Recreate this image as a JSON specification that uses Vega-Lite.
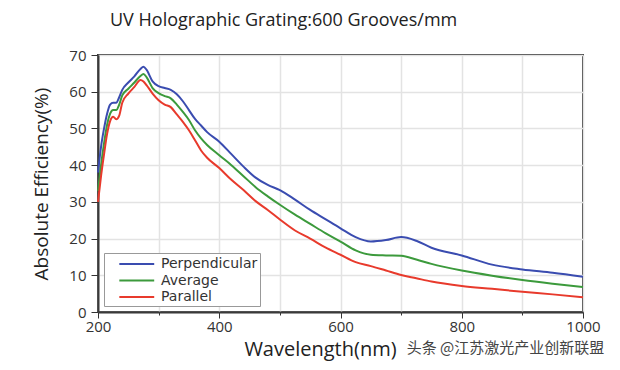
{
  "$schema": "https://vega.github.io/schema/vega-lite/v6.json",
  "width": 485,
  "height": 257,
  "autosize": "none",
  "padding": {"left": 98, "top": 55, "right": 37, "bottom": 58},
  "background": "white",
  "title": {
    "text": "UV Holographic Grating:600 Grooves/mm",
    "anchor": "start",
    "frame": "group",
    "dx": 12,
    "offset": 18,
    "font": "Open Sans",
    "fontSize": 18,
    "fontWeight": "normal",
    "color": "#222"
  },
  "config": {
    "view": {"stroke": "#3a3a3a", "strokeWidth": 2},
    "axis": {
      "labelFont": "Open Sans",
      "labelFontSize": 15,
      "labelColor": "#333",
      "titleFont": "Open Sans",
      "titleFontWeight": "normal",
      "titleColor": "#222",
      "tickColor": "#333",
      "domainColor": "#3a3a3a",
      "domainWidth": 2,
      "gridColor": "#e3e3e3",
      "gridWidth": 1.5,
      "labelOverlap": false,
      "labelFlush": false
    }
  },
  "data": {
    "values": [
      {"wl": 200, "Perpendicular": 38, "Average": 33, "Parallel": 30},
      {"wl": 205, "Perpendicular": 45, "Average": 40, "Parallel": 37},
      {"wl": 210, "Perpendicular": 50, "Average": 46, "Parallel": 43},
      {"wl": 215, "Perpendicular": 54, "Average": 51, "Parallel": 48.5},
      {"wl": 220, "Perpendicular": 56.5, "Average": 54, "Parallel": 52},
      {"wl": 225, "Perpendicular": 57, "Average": 55, "Parallel": 53.2},
      {"wl": 230, "Perpendicular": 57, "Average": 55, "Parallel": 52.5},
      {"wl": 235, "Perpendicular": 58.5, "Average": 56.5, "Parallel": 53.5},
      {"wl": 240, "Perpendicular": 60.5, "Average": 59, "Parallel": 57},
      {"wl": 250, "Perpendicular": 62.5, "Average": 60.8, "Parallel": 59.5},
      {"wl": 260, "Perpendicular": 64.2, "Average": 62.5, "Parallel": 61.3},
      {"wl": 270, "Perpendicular": 66.2, "Average": 64.3, "Parallel": 63.2},
      {"wl": 275, "Perpendicular": 66.8, "Average": 64.8, "Parallel": 62.8},
      {"wl": 280, "Perpendicular": 66, "Average": 64, "Parallel": 61.8},
      {"wl": 290, "Perpendicular": 62.8, "Average": 61, "Parallel": 59.5},
      {"wl": 300, "Perpendicular": 61.5, "Average": 59.6, "Parallel": 57.7},
      {"wl": 310, "Perpendicular": 61, "Average": 58.8, "Parallel": 56.5},
      {"wl": 320, "Perpendicular": 60.5, "Average": 58.2, "Parallel": 55.8},
      {"wl": 330, "Perpendicular": 59.3, "Average": 56.5, "Parallel": 53.8},
      {"wl": 340, "Perpendicular": 57.4, "Average": 54.5, "Parallel": 51.8},
      {"wl": 350, "Perpendicular": 55, "Average": 52.3, "Parallel": 49.5},
      {"wl": 360, "Perpendicular": 52.6, "Average": 49.5, "Parallel": 46.8},
      {"wl": 370, "Perpendicular": 50.8, "Average": 47.3, "Parallel": 44},
      {"wl": 380, "Perpendicular": 49, "Average": 45.5, "Parallel": 42},
      {"wl": 400, "Perpendicular": 46.4, "Average": 42.7, "Parallel": 39.2},
      {"wl": 420, "Perpendicular": 43, "Average": 40, "Parallel": 36},
      {"wl": 440, "Perpendicular": 39.6, "Average": 37, "Parallel": 33.2},
      {"wl": 460, "Perpendicular": 36.6, "Average": 34, "Parallel": 30.2},
      {"wl": 480, "Perpendicular": 34.6, "Average": 31.5, "Parallel": 27.8},
      {"wl": 500, "Perpendicular": 33.2, "Average": 29.2, "Parallel": 25.2},
      {"wl": 525, "Perpendicular": 30.6, "Average": 26.5, "Parallel": 22.2},
      {"wl": 550, "Perpendicular": 27.8, "Average": 24, "Parallel": 20},
      {"wl": 575, "Perpendicular": 25.3, "Average": 21.5, "Parallel": 17.6},
      {"wl": 600, "Perpendicular": 22.8, "Average": 19.2, "Parallel": 15.6},
      {"wl": 625, "Perpendicular": 20.4, "Average": 16.8, "Parallel": 13.6},
      {"wl": 650, "Perpendicular": 19.2, "Average": 15.6, "Parallel": 12.5},
      {"wl": 675, "Perpendicular": 19.6, "Average": 15.4, "Parallel": 11.3},
      {"wl": 700, "Perpendicular": 20.4, "Average": 15.3, "Parallel": 10.1},
      {"wl": 725, "Perpendicular": 19.4, "Average": 14.3, "Parallel": 9.2},
      {"wl": 750, "Perpendicular": 17.5, "Average": 13.1, "Parallel": 8.3},
      {"wl": 800, "Perpendicular": 15.4, "Average": 11.3, "Parallel": 7.1},
      {"wl": 850, "Perpendicular": 12.9, "Average": 9.9, "Parallel": 6.3},
      {"wl": 900, "Perpendicular": 11.6, "Average": 8.7, "Parallel": 5.5},
      {"wl": 950, "Perpendicular": 10.7, "Average": 7.7, "Parallel": 4.8},
      {"wl": 1000, "Perpendicular": 9.6, "Average": 6.8, "Parallel": 4.0}
    ]
  },
  "transform": [
    {"fold": ["Perpendicular", "Average", "Parallel"], "as": ["series", "eff"]}
  ],
  "layer": [
    {
      "mark": {"type": "line", "strokeWidth": 2, "interpolate": "monotone"},
      "encoding": {
        "x": {
          "field": "wl",
          "type": "quantitative",
          "scale": {"domain": [200, 1000], "nice": false},
          "axis": {
            "values": [200, 300, 400, 500, 600, 700, 800, 900, 1000],
            "format": "d",
            "labelExpr": "datum.value % 200 == 0 ? datum.label : ''",
            "tickSize": {"expr": "datum.value % 200 == 0 ? 6 : 3"},
            "title": "Wavelength(nm)",
            "titleFontSize": 20,
            "titleX": 222,
            "titleY": 27,
            "titleAlign": "center",
            "labelPadding": 1
          }
        },
        "y": {
          "field": "eff",
          "type": "quantitative",
          "scale": {"domain": [0, 70], "nice": false},
          "axis": {
            "values": [0, 10, 20, 30, 40, 50, 60, 70],
            "title": "Absolute Efficiency(%)",
            "titleFontSize": 19,
            "titlePadding": 17,
            "tickSize": 7,
            "labelPadding": 5
          }
        },
        "color": {
          "field": "series",
          "type": "nominal",
          "sort": ["Perpendicular", "Average", "Parallel"],
          "scale": {
            "domain": ["Perpendicular", "Average", "Parallel"],
            "range": ["#3a4cb0", "#3c9a3c", "#e83a2c"]
          },
          "legend": {
            "title": null,
            "orient": "bottom-left",
            "offset": 6,
            "symbolType": "M0.54,0H4.9",
            "symbolSize": 256,
            "symbolStrokeWidth": 2,
            "labelFont": "DejaVu Sans",
            "labelFontSize": 14,
            "labelColor": "#333",
            "labelExpr": "datum.label + '\u00a0\u00a0\u00a0\u00a0\u00a0\u00a0\u00a0\u00a0'",
            "strokeColor": "#999999",
            "fillColor": "white",
            "padding": 2,
            "rowPadding": 0.5,
            "labelOffset": 37
          }
        }
      }
    },
    {
      "mark": {"type": "point", "opacity": 0},
      "encoding": {
        "x": {
          "field": "wl",
          "type": "quantitative",
          "scale": {"domain": [200, 1000], "nice": false},
          "axis": {
            "orient": "bottom",
            "labels": false,
            "ticks": false,
            "domain": false,
            "grid": false,
            "title": "头条 @江苏激光产业创新联盟",
            "titleFont": "Noto Sans CJK SC",
            "titleFontSize": 15,
            "titleColor": "#444",
            "titleX": 407,
            "titleY": 28,
            "titleAlign": "center"
          }
        },
        "y": {
          "field": "eff",
          "type": "quantitative",
          "axis": {
            "values": [0, 10, 20, 30, 40, 50, 60, 70],
            "title": "Absolute Efficiency(%)",
            "titleFontSize": 19,
            "titlePadding": 17,
            "tickSize": 7,
            "labelPadding": 5
          }
        }
      }
    }
  ],
  "resolve": {"axis": {"x": "independent"}}
}
